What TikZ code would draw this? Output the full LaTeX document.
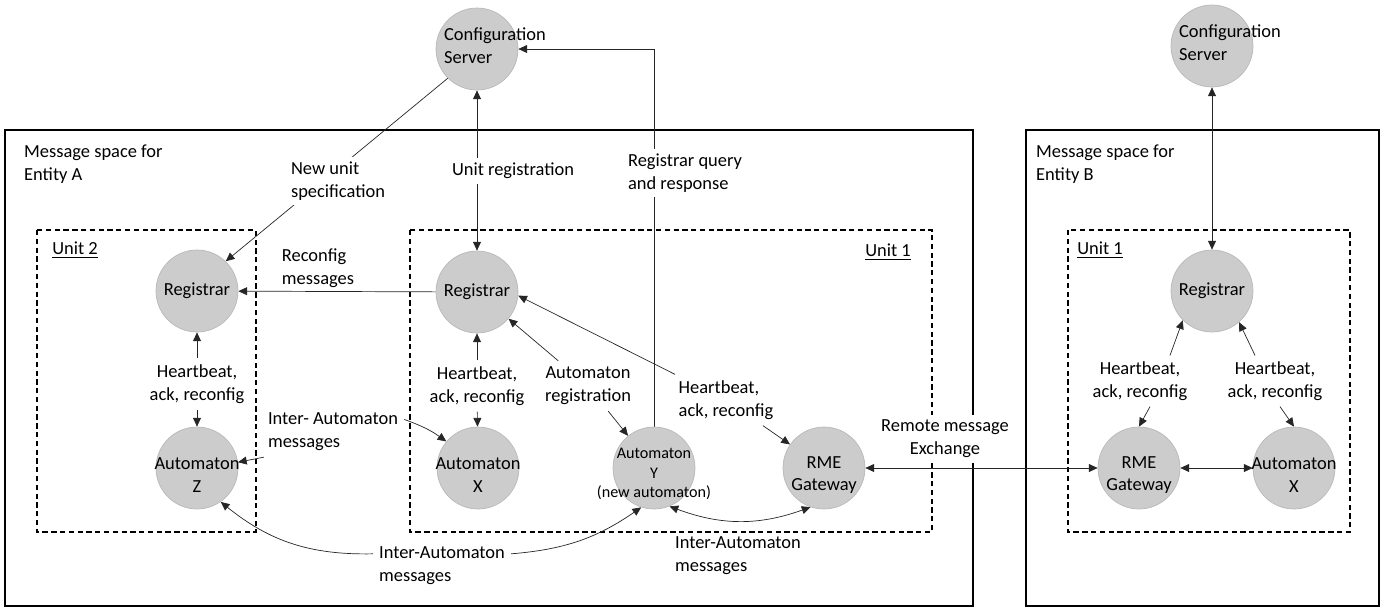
\documentclass[tikz,border=0pt]{standalone}
\usepackage{fontspec}
\setmainfont{Carlito}
\usetikzlibrary{arrows.meta,backgrounds}

\tikzset{
	unit node/.style={circle, minimum size=1.64cm, inner sep=0mm, fill=gray!40, draw=gray!55},
	low text/.style={align=center, yshift=-0.14cm},
	msg/.style={-{Triangle[length=5pt,width=4.5pt]}, black!85},
	msgs/.style={{Triangle[length=5pt,width=4.5pt]}-{Triangle[length=5pt,width=4.5pt]}, black!85},
	space box/.style={draw=black, line width=0.9pt},
	unit box/.style={draw=black, line width=0.7pt, dash pattern=on 3pt off 2pt},
	tag/.style={fill=white, inner sep=1mm},
}

\begin{document}
\begin{tikzpicture}[x=0.02cm, y=-0.02cm, font=\fontsize{10.5}{13}\selectfont]
\useasboundingbox (0,0) rectangle (1383,610);

	% entity A
	\node[unit node, label={[align=left, xshift=0.36cm, yshift=0.06cm]center:Configuration\\Server}] at (477,49) (cfga) {};
	\node[unit node, label=center:Registrar] at (197,291) (reg2) {};
	\node[unit node, label={[low text]center:Automaton\\Z}] at (197,468) (autz) {};
	\node[unit node, label=center:Registrar] at (477,292) (reg1) {};
	\node[unit node, label={[low text]center:Automaton\\X}] at (478,468) (autxa) {};
	\node[unit node, label={[align=center, yshift=-0.12cm, font=\fontsize{9.2}{11}\selectfont]center:Automaton\\Y\\(new automaton)}] at (654,468) (auty) {};
	\node[unit node, label={[low text]center:RME\\Gateway}] at (824,468) (rmea) {};

	% entity B
	\node[unit node, label={[align=left, xshift=0.36cm, yshift=0.06cm]center:Configuration\\Server}] at (1212,46) (cfgb) {};
	\node[unit node, label=center:Registrar] at (1212,291) (regb) {};
	\node[unit node, label={[low text]center:RME\\Gateway}] at (1139,468) (rmeb) {};
	\node[unit node, label={[low text]center:Automaton\\X}] at (1294,468) (autxb) {};

	\node[align=left, anchor=west] at (18,164) (spacea) {Message space for\\Entity A};
	\node[align=left, anchor=west] at (1030,164) (spaceb) {Message space for\\Entity B};
	\node at (75,250) (unit2) {\underline{Unit 2}};
	\node at (888,252) (unit1a) {\underline{Unit 1}};
	\node at (1100,250) (unit1b) {\underline{Unit 1}};

	\node[tag] at (513,171) (ureg) {Unit registration};
	\node[tag, align=left] at (685,173) (rquery) {Registrar query\\and response};
	\node[tag, align=left] at (338,181) (newspec) {New unit\\specification};
	\node[align=left] at (318,268) (reconf) {Reconfig\\messages};
	\node[align=center] at (197,384) (hbz) {Heartbeat,\\ack, reconfig};
	\node[align=center] at (477,386) (hbx) {Heartbeat,\\ack, reconfig};
	\node[align=center] at (588,386) (areg) {Automaton\\registration};
	\node[align=left] at (726,400) (hbr) {Heartbeat,\\ack, reconfig};
	\node[align=left] at (333,432) (iamzx) {Inter- Automaton\\messages};
	\node[align=left] at (442,566) (iamzy) {Inter-Automaton\\messages};
	\node[align=left] at (738,556) (iamyr) {Inter-Automaton\\messages};
	\node[tag, align=center] at (945,439) (remote) {Remote message\\Exchange};
	\node[align=center] at (1140,381) (hbbr) {Heartbeat,\\ack, reconfig};
	\node[align=center] at (1275,381) (hbbx) {Heartbeat,\\ack, reconfig};

	\begin{scope}[on background layer]
		\draw[space box] (5,130) rectangle (973,606);
		\draw[space box] (1026,130) rectangle (1379,606);
		\draw[unit box] (37,230) rectangle (256,532);
		\draw[unit box] (410,230) rectangle (932,532);
		\draw[unit box] (1068,230) rectangle (1350,532);

		\draw[msgs] (reg1) -- (cfga);
		\draw[msg] (auty.north) |- (cfga.east);
		\draw[msg] (cfga.225) -- (reg2.46);
		\draw[msg] (reg1) -- (reg2);
		\draw[msg] (hbz) -- (reg2);
		\draw[msg] (hbz) -- (autz);
		\draw[msg] (hbx) -- (reg1);
		\draw[msg] (hbx) -- (autxa);
		\draw[msg] (areg) -- (reg1);
		\draw[msg] (areg) -- (auty);
		\draw[msg] (hbr) -- (reg1.-5);
		\draw[msg] (hbr) -- (rmea);
		\draw[msg] (iamzx.10) to[bend left=8] (autxa.140);
		\draw[msg] (iamzx.200) -- (autz.8);
		\draw[msg] (iamzy.170) to[bend left=20] (autz.-55);
		\draw[msg] (iamzy.10) to[bend right=15] (auty.-108);
		\draw[msgs] (auty.-68) to[bend right=20] (rmea.-109);
		\draw[msgs] (rmea) -- (rmeb);

		\draw[msgs] (regb) -- (cfgb);
		\draw[msg] ([xshift=0.6cm]hbbr.north) -- (regb.225);
		\draw[msg] ([xshift=0.2cm]hbbr.south) -- (rmeb.north);
		\draw[msg] ([xshift=-0.4cm]hbbx.north) -- (regb.-49);
		\draw[msg] ([xshift=0.1cm]hbbx.south) -- (autxb.north);
		\draw[msgs] (rmeb) -- (autxb);
	\end{scope}
\end{tikzpicture}
\end{document}
